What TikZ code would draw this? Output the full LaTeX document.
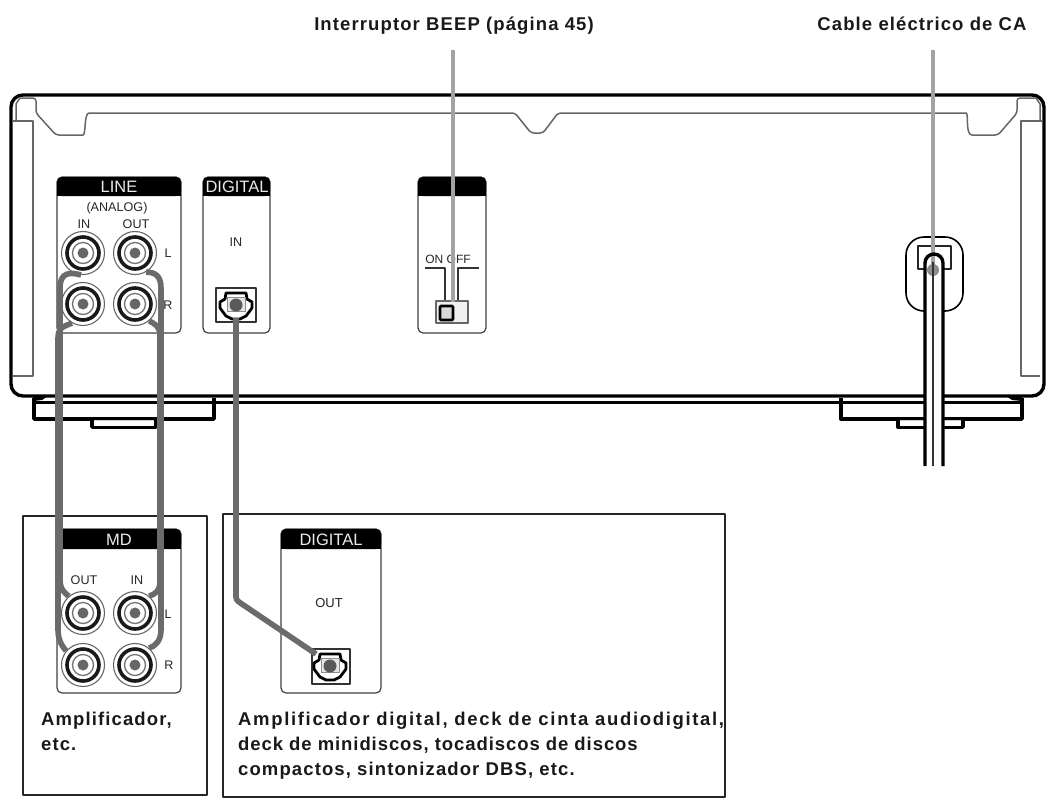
\documentclass[tikz,border=0pt]{standalone}
\usepackage{fontspec}
\setmainfont{Liberation Sans}
\newfontfamily\boldlabel[LetterSpace=6]{Liberation Sans Bold}
\newfontfamily\boldwide[LetterSpace=9]{Liberation Sans Bold}
\newfontfamily\boldtight[LetterSpace=5]{Liberation Sans Bold}
\begin{document}
\begin{tikzpicture}[x=1pt,y=-1pt,line join=round,
  body/.style={draw=black,line width=3.4pt,fill=white},
  inner/.style={draw=black!60,line width=1.5pt},
  foot/.style={draw=black,line width=3.4pt,fill=white},
  panel/.style={draw=black!75,line width=1.2pt,rounded corners=5pt,fill=white},
  head/.style={fill=black,rounded corners=5pt},
  headtxt/.style={text=white!92!black,font=\fontsize{16.5}{16.5}\selectfont,inner sep=0pt},
  small/.style={text=black!85,font=\fontsize{12.6}{13}\selectfont,inner sep=0pt},
  sidetxt/.style={text=black!85,font=\fontsize{12.5}{12.5}\selectfont,inner sep=0pt},
  label/.style={font=\boldlabel\fontsize{18.5}{25}\selectfont,inner sep=0pt,align=left,text=black!90},
  frame/.style={draw=black!85,line width=1.7pt},
  jack/.style={circle,draw=black!60,line width=1.1pt,minimum size=43pt,inner sep=0pt,fill=white},
  cable/.style={draw=black!58,line width=5.6pt},
  leader/.style={draw=black!36,line width=4.4pt},
  cord/.style={draw=black,line width=3.4pt},
  cordmid/.style={draw=black!80,line width=1.1pt}]
\useasboundingbox (0,0) rectangle (1056,801);
\newcommand{\jackat}[3]{%
  \node[jack] (#1) at (#2,#3) {};
  \draw[black!90,line width=3.6pt] (#2,#3) circle (16pt);
  \draw[black!55,line width=1.3pt] (#2,#3) circle (10.5pt);
  \fill[black!60] (#2,#3) circle (5.5pt);
}
\newcommand{\optical}[2]{%
  \begin{scope}[shift={(#1,#2)}]
  \draw[black,line width=2.8pt,fill=white] (-10,-12) -- (10,-12) -- (11,-6) -- (16,-3) -- (16,3) -- (10,11) -- (4,14) -- (-4,14) -- (-10,11) -- (-16,3) -- (-16,-3) -- (-11,-6) -- cycle;
  \draw[black!45,line width=1pt,fill=black!10] (-9,-8) rectangle (9,6);
  \fill[black!65] (0,0) circle (6.5pt);
  \end{scope}
}
% feet
\draw[foot] (92,412) -- (92,427) -- (156,427) -- (156,412);
\draw[foot] (34,398) -- (34,419) -- (214,419) -- (214,398);
\draw[foot] (898,412) -- (898,427) -- (963,427) -- (963,412);
\draw[foot] (841,398) -- (841,419) -- (1022,419) -- (1022,398);
\fill[white] (94,421) rectangle (154,425.5);
\fill[white] (900,421) rectangle (961,425.5);
\draw[black!20,line width=1pt] (94,420.6) -- (154,420.6) (900,420.6) -- (961,420.6);
% body
\draw[body,rounded corners=12pt] (11,95) rectangle (1044,396);
\draw[draw=black,line width=3pt] (33,402.5) -- (1022,402.5);
\fill[black] (33,396) -- (48,396) -- (42,400) -- (33,401) -- cycle;
\fill[black] (1022,396) -- (1006,396) -- (1012,400) -- (1022,401) -- cycle;
% inner lines
\draw[inner] (13,121) -- (33,121) -- (33,376) -- (13,376);
\draw[inner] (1042,121) -- (1021,121) -- (1021,376) -- (1040,376);
\draw[inner,rounded corners=3pt] (20,98) -- (36,98) -- (36,113) -- (56,135) -- (80,135) .. controls (86,135) and (84,113) .. (92,113) -- (515,113) -- (531,133) -- (543,133) -- (558,113) -- (963,113) .. controls (969,113) and (965,135) .. (975,135) -- (998,135) -- (1017,113) -- (1017,98) -- (1036,98);
\draw[inner] (1036,98) -- (1040,104) -- (1040,121);
\draw[inner] (20,98) -- (16,104) -- (16,121);
% panels
\node[panel,minimum width=124pt,minimum height=156pt,inner sep=0pt] (linepanel) at (119,255) {};
\fill[head] (57,177) rectangle (181,196);
\fill (57,188) rectangle (181,196);
\node[headtxt] (linetxt) at (119,187) {LINE};
\node[small] (analog) at (117,208) {(ANALOG)};
\node[small] (linein) at (84,224) {IN};
\node[small] (lineout) at (136,224) {OUT};
\node[sidetxt] (sideL) at (168,253) {L};
\node[sidetxt] (sideR) at (168,305) {R};
\node[panel,minimum width=67pt,minimum height=156pt,inner sep=0pt] (digpanel) at (236.5,255) {};
\fill[head] (203,177) rectangle (270,196);
\fill (203,188) rectangle (270,196);
\node[headtxt] (digtxt) at (237,187) {DIGITAL};
\node[small] (digin) at (236,242) {IN};
\draw[black!80,line width=1.2pt,fill=white] (216,288) rectangle (256,322);
\optical{236}{305}
\coordinate (digincoord) at (236,318);
\node[panel,minimum width=68pt,minimum height=156pt,inner sep=0pt] (beeppanel) at (452,255) {};
\fill[head] (418,177) rectangle (486,196);
\fill (418,188) rectangle (486,196);
\node[small,font=\fontsize{12}{12}\selectfont] (onoff) at (448,259) {ON OFF};
\draw[black!80,line width=1.1pt] (425,268) -- (445,268) -- (445,301);
\draw[black!80,line width=1.1pt] (458,301) -- (458,268) -- (479,268);
\draw[black!60,line width=1.2pt,fill=black!6] (436,301) rectangle (468,323);
\draw[black,line width=2.8pt,fill=black!15,rounded corners=1pt] (440,306) rectangle (453,320);
% jacks on the deck
\jackat{liL}{83}{253}
\jackat{loL}{135}{253}
\jackat{liR}{83}{304}
\jackat{loR}{135}{304}
% frames
\draw[frame] (23,516) rectangle (207,795);
\draw[frame] (223,514) rectangle (725,797);
% MD panel
\node[panel,minimum width=124pt,minimum height=164pt,inner sep=0pt] (mdpanel) at (119,611) {};
\fill[head] (57,529) rectangle (181,549);
\fill (57,540) rectangle (181,549);
\node[headtxt] (mdtxt) at (119,540) {MD};
\node[small] (mdout) at (84,580) {OUT};
\node[small] (mdin) at (137,580) {IN};
\node[sidetxt] (mdL) at (168,614) {L};
\node[sidetxt] (mdR) at (169,665) {R};
\jackat{moL}{83}{613}
\jackat{miL}{135}{613}
\jackat{moR}{83}{665}
\jackat{miR}{135}{665}
% digital out panel
\node[panel,minimum width=100pt,minimum height=164pt,inner sep=0pt] (outpanel) at (331,611) {};
\fill[head] (281,529) rectangle (381,549);
\fill (281,540) rectangle (381,549);
\node[headtxt] (outtxt) at (331,540) {DIGITAL};
\node[small,font=\fontsize{13}{13}\selectfont] (outlab) at (329,603) {OUT};
\draw[black!80,line width=1.2pt,fill=white] (312,649) rectangle (350,684);
\optical{330}{666}
% cables
\draw[cable] (liL.-95) .. controls (70,272) and (60,272) .. (60,288) -- (60,580) .. controls (60,590) and (66,594) .. (moL.130);
\draw[cable] (liR.-120) .. controls (66,326) and (58,326) .. (58,338) -- (58,630) .. controls (58,642) and (64,648) .. (moR.140);
\draw[cable] (loL.-60) .. controls (155,272) and (161,276) .. (161,288) -- (161,630) .. controls (161,640) and (156,646) .. (miR.50);
\draw[cable] (loR.-50) .. controls (155,324) and (160,326) .. (160,336) -- (160,582) .. controls (160,590) and (156,594) .. (miL.50);
\draw[cable,rounded corners=3pt] (digincoord) -- (236,600) -- (316,654);
% leaders
\coordinate (beeptop) at (453,50);
\coordinate (beepend) at (453,302);
\coordinate (cordtop) at (933,50);
\draw[leader] (beeptop) -- (beepend);
% grommet & cord
\draw[black,line width=1.6pt,rounded corners=18pt,fill=white] (906,237) rectangle (963,311);
\draw[black!85,line width=1.2pt] (918,269) -- (918,246) -- (951,246) -- (951,269) -- cycle;
\fill[white] (926,262) rectangle (942,470);
\coordinate (cordend) at (933,270);
\draw[leader] (cordtop) -- (cordend);
\fill[black!45] (cordend) circle (6pt);
\draw[cord] (925,466) -- (925,263) arc[start angle=180,end angle=0,radius=9pt] -- (943,466);
\draw[cordmid] (933,466) -- (933,262);
% labels
\node[label,anchor=base] (beeplabel) at (454,30) {Interruptor BEEP (página 45)};
\node[label,anchor=base] (cordlabel) at (922,30) {Cable eléctrico de CA};
\node[label,anchor=north west] (amp) at (41,712) {Amplificador,\\etc.};
\node[label,anchor=north west] (ampd) at (238,712) {{\boldwide\fontsize{18.5}{25}\selectfont Amplificador digital, deck de cinta audiodigital,}\\{\boldtight\fontsize{18.5}{25}\selectfont deck de minidiscos, tocadiscos de discos}\\compactos, sintonizador DBS, etc.};
\end{tikzpicture}
\end{document}
